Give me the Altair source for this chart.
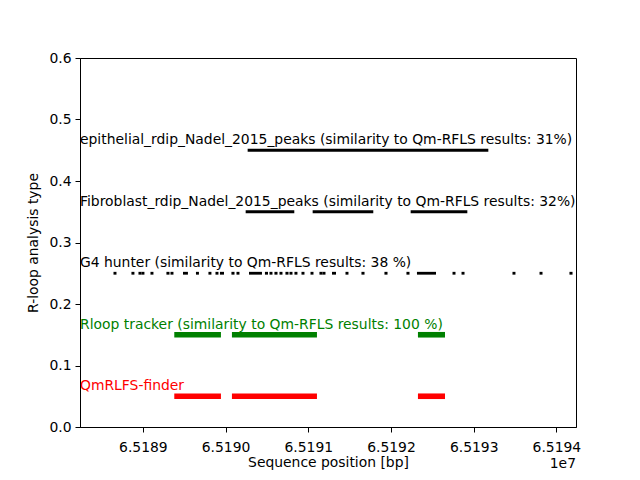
import altair as alt
import pandas as pd

# ---- data (bp positions) ----
epi_start = [65190267]
epi_end = [65193177]

fib_start = [65190243, 65191053, 65192238]
fib_end = [65190831, 65191786, 65192923]

g4_start = [65188645, 65188862, 65188947, 65188983, 65189092, 65189285, 65189334,
            65189485, 65189642, 65189793, 65189878, 65189932, 65190071, 65190132,
            65190283, 65190476, 65190531, 65190591, 65190652, 65190724, 65190773,
            65190833, 65190918, 65191027, 65191135, 65191172, 65191287, 65191450,
            65191643, 65191921, 65192187, 65192314, 65192744, 65192853, 65193469,
            65193796, 65194158]
g4_end = [65188681, 65188898, 65188983, 65189019, 65189128, 65189322, 65189370,
          65189545, 65189678, 65189829, 65189914, 65189981, 65190108, 65190168,
          65190440, 65190513, 65190567, 65190628, 65190688, 65190761, 65190809,
          65190869, 65190954, 65191063, 65191172, 65191208, 65191335, 65191486,
          65191680, 65191958, 65192224, 65192544, 65192780, 65192889, 65193505,
          65193832, 65194195]

rloop_start = [65189380, 65190077, 65192326]
rloop_end = [65189944, 65191105, 65192653]

qm_start = [65189380, 65190077, 65192326]
qm_end = [65189944, 65191105, 65192653]

track_y = {"epi": 0.45, "fib": 0.35, "g4": 0.25, "rloop": 0.15, "qm": 0.05}

labels = [
    "epithelial_rdip_Nadel_2015_peaks (similarity to Qm-RFLS results: 31%)",
    "Fibroblast_rdip_Nadel_2015_peaks (similarity to Qm-RFLS results: 32%)",
    "G4 hunter (similarity to Qm-RFLS results: 38 %)",
    "Rloop tracker (similarity to Qm-RFLS results: 100 %)",
    "QmRLFS-finder",
]
label_y = [0.46, 0.36, 0.26, 0.16, 0.06]
label_color = ["black", "black", "black", "green", "red"]

x_domain = [65188240, 65194237]
x_ticks = [65189000, 65190000, 65191000, 65192000, 65193000, 65194000]
y_ticks = [0.0, 0.1, 0.2, 0.3, 0.4, 0.5, 0.6]

# ---- tables ----
def seg(starts, ends, y):
    return pd.DataFrame({"start": starts, "end": ends, "y": [y] * len(starts)})

black_df = pd.concat([
    seg(epi_start, epi_end, track_y["epi"]),
    seg(fib_start, fib_end, track_y["fib"]),
    seg(g4_start, g4_end, track_y["g4"]),
])
green_df = seg(rloop_start, rloop_end, track_y["rloop"])
red_df = seg(qm_start, qm_end, track_y["qm"])
label_df = pd.DataFrame({"label": labels, "y": label_y, "color": label_color,
                         "x": [x_domain[0]] * len(labels)})

FONT = "DejaVu Sans"
FS = 13.9

xscale = alt.Scale(domain=x_domain, nice=False, zero=False)
yscale = alt.Scale(domain=[0, 0.6], nice=False)

xaxis = alt.Axis(values=x_ticks, labelExpr="format(datum.value / 1e7, '.4f')",
                 title="Sequence position [bp]", grid=False)
yaxis = alt.Axis(values=y_ticks, format=".1f", title="R-loop analysis type", grid=False)


def rules(df, color, width):
    return alt.Chart(df).mark_rule(color=color, strokeWidth=width, strokeCap="butt").encode(
        x=alt.X("start:Q", scale=xscale, axis=xaxis),
        x2="end:Q",
        y=alt.Y("y:Q", scale=yscale, axis=yaxis),
    )


black = rules(black_df, "black", 2.8)
green = rules(green_df, "green", 5.6)
red = rules(red_df, "red", 5.6)

text = alt.Chart(label_df).mark_text(align="left", baseline="alphabetic",
                                      font=FONT, fontSize=FS).encode(
    x=alt.X("x:Q", scale=xscale),
    y=alt.Y("y:Q", scale=yscale),
    text="label:N",
    color=alt.Color("color:N", scale=None),
)

offset = alt.Chart(pd.DataFrame({"t": ["1e7"]})).mark_text(
    align="right", baseline="alphabetic", font=FONT, fontSize=FS, color="black"
).encode(x=alt.value(496), y=alt.value(410), text="t:N")

chart = alt.layer(black, green, red, text, offset).properties(
    width=496, height=369,
    autosize=alt.AutoSizeParams(type="none"),
    padding={"left": 80, "top": 58, "right": 64, "bottom": 53},
).configure_view(stroke="black", strokeWidth=1).configure_axis(
    labelFont=FONT, labelFontSize=FS, labelColor="black",
    titleFont=FONT, titleFontSize=FS, titleColor="black", titleFontWeight="normal",
    domainColor="black", tickColor="black", tickSize=5, labelPadding=4,
).configure_axisX(titlePadding=2, labelPadding=8).configure_axisY(titlePadding=8)

chart.save("out.html", embed_options={"renderer": "svg", "actions": False})
